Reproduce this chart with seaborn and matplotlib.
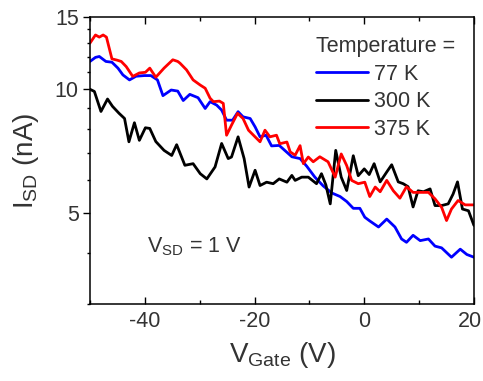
import matplotlib
matplotlib.use("Agg")
import matplotlib.pyplot as plt
import matplotlib.transforms as mtransforms
import pandas as pd
import seaborn as sns
from matplotlib.ticker import FixedLocator, MultipleLocator, NullFormatter

# values
temperatures = ["77 K", "300 K", "375 K"]
line_colors = ["#0000ff", "#000000", "#ff0000"]

vgate_77 = [-50.0, -49.0, -48.3, -47.1, -46.0, -44.9, -44.0, -42.8, -41.6, -40.1,
            -38.9, -37.7, -36.7, -35.2, -34.0, -33.0, -31.8, -30.3, -29.0, -28.1,
            -26.9, -26.0, -25.1, -24.0, -23.0, -22.1, -20.8, -19.9, -19.0, -17.9,
            -16.9, -15.5, -13.2, -11.7, -10.5, -9.0, -7.5, -5.9, -4.4, -3.2,
            -2.0, -0.8, 0.1, 1.0, 2.6, 4.1, 5.6, 6.8, 7.7, 8.9,
            10.2, 11.7, 12.9, 14.1, 15.9, 17.5, 18.7, 20.0]
isd_77 = [11.69, 11.96, 12.02, 11.69, 11.64, 11.26, 10.84, 10.54, 10.76, 10.80,
          10.80, 10.54, 9.65, 9.96, 9.90, 9.39, 9.72, 9.54, 8.98, 9.33,
          9.15, 8.90, 8.41, 8.41, 8.82, 8.57, 8.49, 8.10, 7.66, 7.73,
          7.28, 7.30, 6.85, 6.78, 6.50, 6.11, 5.82, 5.59, 5.48, 5.33,
          5.13, 5.13, 4.88, 4.78, 4.62, 4.83, 4.62, 4.32, 4.24, 4.41,
          4.28, 4.32, 4.15, 4.11, 3.90, 4.08, 3.96, 3.90]

vgate_300 = [-50.0, -49.2, -48.0, -46.8, -45.9, -44.7, -43.7, -42.9, -41.9, -41.0,
             -39.9, -39.1, -38.0, -36.5, -35.1, -34.2, -32.7, -31.2, -29.9, -28.7,
             -27.2, -26.0, -24.8, -24.2, -23.0, -21.9, -21.0, -19.9, -19.0, -17.8,
             -16.6, -15.5, -14.1, -13.2, -12.6, -11.4, -10.2, -8.7, -7.8, -7.0,
             -6.2, -5.2, -4.2, -3.2, -2.0, -1.1, 0.0, 0.9, 1.8, 2.9,
             4.1, 5.0, 6.2, 7.1, 8.0, 8.9, 9.8, 10.8, 12.0, 12.9,
             14.1, 15.3, 16.2, 17.0, 17.9, 19.0, 20.0]
isd_300 = [10.00, 9.88, 8.83, 9.47, 9.09, 8.74, 8.49, 7.45, 8.29, 7.51,
           8.06, 8.03, 7.46, 7.10, 6.90, 7.33, 6.53, 6.59, 6.23, 6.05,
           6.47, 7.38, 6.78, 6.84, 7.66, 6.78, 5.78, 6.35, 5.83, 5.94,
           5.89, 6.05, 5.94, 6.17, 6.00, 6.11, 6.11, 5.89, 6.23, 5.85,
           5.26, 7.10, 6.11, 5.67, 6.89, 6.16, 6.40, 6.20, 6.59, 5.95,
           6.29, 6.55, 5.95, 5.89, 5.79, 5.17, 5.66, 5.63, 5.72, 5.21,
           5.21, 5.26, 5.56, 5.95, 5.11, 5.06, 4.66]

vgate_375 = [-50.0, -49.0, -48.3, -47.6, -47.0, -46.0, -45.1, -44.3, -43.4, -42.2,
             -41.0, -39.9, -39.1, -38.0, -36.5, -34.9, -34.0, -33.6, -32.4, -31.2,
             -29.9, -29.0, -28.1, -27.5, -26.4, -25.7, -25.1, -24.2, -23.1, -22.1,
             -21.1, -20.2, -19.0, -18.1, -17.2, -16.0, -15.4, -14.1, -13.5, -12.6,
             -11.7, -11.1, -10.2, -9.3, -8.1, -6.6, -5.3, -4.2, -3.2, -2.3,
             -1.1, 0.1, 1.0, 2.0, 2.9, 4.1, 5.3, 6.5, 7.7, 8.9,
             10.2, 11.7, 12.9, 14.1, 15.0, 15.9, 17.1, 18.4, 20.0]
isd_375 = [12.96, 13.56, 13.40, 13.56, 13.40, 11.86, 11.78, 11.69, 11.36, 10.75,
           10.96, 11.00, 11.26, 10.70, 11.26, 11.80, 11.69, 11.58, 11.15, 10.54,
           10.24, 10.06, 9.51, 9.33, 9.36, 9.24, 7.73, 8.18, 8.74, 8.49,
           7.95, 7.73, 7.45, 7.95, 7.66, 7.73, 7.37, 7.44, 7.04, 6.91,
           7.29, 6.59, 6.84, 6.66, 6.85, 6.66, 6.11, 6.96, 6.52, 6.00,
           5.89, 5.94, 5.48, 5.78, 5.63, 6.00, 5.66, 5.43, 5.79, 5.61,
           5.61, 5.61, 5.41, 5.16, 4.79, 5.11, 5.36, 5.23, 5.23]

y_major = [5, 10, 15]
y_minor = [3, 4, 6, 7, 8, 9, 11, 12, 13, 14]
x_major = [-40, -20, 0, 20]

text_color = "#333333"

df = pd.concat([
    pd.DataFrame({"vgate": vgate_77, "isd": isd_77, "temp": "77 K"}),
    pd.DataFrame({"vgate": vgate_300, "isd": isd_300, "temp": "300 K"}),
    pd.DataFrame({"vgate": vgate_375, "isd": isd_375, "temp": "375 K"}),
], ignore_index=True)

sns.set_theme(style="ticks")
plt.rcParams["font.family"] = ["Liberation Sans", "DejaVu Sans"]
plt.rcParams["mathtext.fontset"] = "custom"
plt.rcParams["mathtext.rm"] = "Liberation Sans"
plt.rcParams["mathtext.it"] = "Liberation Sans"
plt.rcParams["axes.unicode_minus"] = False

fig = plt.figure(figsize=(4.83, 3.81), dpi=100)
ax = fig.add_axes([0.1863, 0.2021, 0.7950, 0.7533])

sns.lineplot(
    data=df, x="vgate", y="isd", hue="temp",
    hue_order=temperatures, palette=dict(zip(temperatures, line_colors)),
    estimator=None, sort=False, lw=2.0, ax=ax,
)

ax.set_yscale("log")
ax.set_xlim(-50, 20)
ax.set_ylim(3, 15)

ax.yaxis.set_major_locator(FixedLocator(y_major))
ax.yaxis.set_minor_locator(FixedLocator(y_minor))
ax.yaxis.set_minor_formatter(NullFormatter())
ax.set_yticklabels([str(v) for v in y_major])
ax.xaxis.set_major_locator(FixedLocator(x_major))
ax.xaxis.set_minor_locator(MultipleLocator(10))
ax.set_xticklabels([str(v) for v in x_major])

for side in ["left", "right", "top", "bottom"]:
    ax.spines[side].set_linewidth(1.1)
    ax.spines[side].set_color("black")

ax.tick_params(axis="x", which="both", direction="in", top=True, bottom=True,
               width=1.0, color="black", labelsize=15.5, labelcolor=text_color, pad=5)
ax.tick_params(axis="x", which="major", length=5)
ax.tick_params(axis="x", which="minor", length=3)
ax.tick_params(axis="y", which="both", direction="out", left=True, right=False,
               width=1.0, color="black", labelsize=15.5, labelcolor=text_color, pad=3)
ax.tick_params(axis="y", which="major", length=5)
ax.tick_params(axis="y", which="minor", length=2)

# the last x label sits a little left of its tick, as in the reference
last_label = ax.get_xticklabels()[-1]
last_label.set_transform(last_label.get_transform()
                         + mtransforms.ScaledTranslation(-0.04, 0, fig.dpi_scale_trans))

ax.set_xlabel(r"V$_{\mathrm{Gate}}$ (V)", fontsize=20, color=text_color, labelpad=6)
ax.set_ylabel(r"I$_{\mathrm{SD}}$ (nA)", fontsize=20, color=text_color, labelpad=10)

ax.text(0.148, 0.181, r"V$_{\mathrm{SD}}$ = 1 V", transform=ax.transAxes,
        fontsize=15.5, color=text_color, ha="left", va="baseline")

handles, labels = ax.get_legend_handles_labels()
leg = ax.legend(handles, labels, title="Temperature =", loc="upper left",
                bbox_to_anchor=(0.589, 0.933), frameon=False, fontsize=15.5,
                title_fontsize=15.5, handlelength=2.4, handletextpad=0.3,
                labelspacing=0.3, borderpad=0, borderaxespad=0, alignment="left")
for t in leg.get_texts():
    t.set_color(text_color)
leg.get_title().set_color(text_color)
for line in leg.get_lines():
    line.set_linewidth(2.0)

fig.savefig("out.png", dpi=100)
